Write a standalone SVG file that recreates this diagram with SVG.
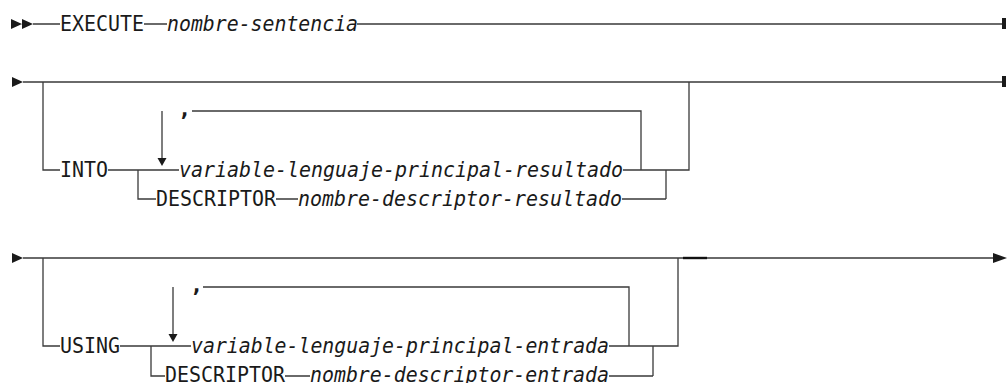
<svg xmlns="http://www.w3.org/2000/svg" width="1008" height="383" viewBox="0 0 1008 383">
<style>
.ln{stroke:#3a3a3a;stroke-width:1.3;fill:none}
.ah{fill:#1a1a1a}
text{font-family:"DejaVu Sans Mono","Liberation Mono",monospace;font-size:22px;fill:#1a1a1a}
.var{font-style:italic}
.cm{font-weight:bold}
</style>
<rect width="1008" height="383" fill="#fff"/>
<g id="connectors">
<path class="ln" d="M33 24H60 M144 24H167 M357 24H1004"/>
<path class="ln" d="M23 82H1004 M43 82V170H60 M108 170H179 M138 170V199H156 M276 199H298 M622 199H666 M623 170H689 V82 M666 170V199 M641 170V111H192 M162 111V160"/>
<path class="ln" d="M23 258H994 M43 258V346H60 M120 346H191 M151 346V376H165 M285 376H310 M609 376H653 M609 346H678 V258 M653 346V376 M629 346V287H203 M173 287V335"/>
<path d="M683 258H707" stroke="#111" stroke-width="2.4"/>
</g>
<g id="arrows">
<path class="ah" d="M11 19L22 24L11 29Z M22 19L33 24L22 29Z"/>
<rect class="ah" x="1002" y="18" width="4" height="11"/>
<path class="ah" d="M12 77L23 82L12 87Z"/>
<rect class="ah" x="1002" y="76" width="4" height="11"/>
<path class="ah" d="M12 253L23 258L12 263Z"/>
<path class="ah" d="M993 253L1007 258L993 263Z"/>
<path class="ah" d="M157.5 158L166.5 158L162 166Z"/>
<path class="ah" d="M168.5 334L177.5 334L173 342Z"/>
</g>
<g id="n-execute"><text x="60" y="31" textLength="84" lengthAdjust="spacingAndGlyphs">EXECUTE</text></g>
<g id="n-nombre-sentencia"><text class="var" x="167" y="31" textLength="191" lengthAdjust="spacingAndGlyphs">nombre-sentencia</text></g>
<g id="n-into"><text x="60" y="177" textLength="48" lengthAdjust="spacingAndGlyphs">INTO</text></g>
<g id="n-comma1"><text class="cm" x="178" y="116">,</text></g>
<g id="n-var-resultado"><text class="var" x="179" y="177" textLength="444" lengthAdjust="spacingAndGlyphs">variable-lenguaje-principal-resultado</text></g>
<g id="n-descriptor1"><text x="156" y="206" textLength="120" lengthAdjust="spacingAndGlyphs">DESCRIPTOR</text></g>
<g id="n-nombre-desc-resultado"><text class="var" x="298" y="206" textLength="324" lengthAdjust="spacingAndGlyphs">nombre-descriptor-resultado</text></g>
<g id="n-using"><text x="60" y="353" textLength="60" lengthAdjust="spacingAndGlyphs">USING</text></g>
<g id="n-comma2"><text class="cm" x="190" y="292">,</text></g>
<g id="n-var-entrada"><text class="var" x="191" y="353" textLength="418" lengthAdjust="spacingAndGlyphs">variable-lenguaje-principal-entrada</text></g>
<g id="n-descriptor2"><text x="165" y="382" textLength="120" lengthAdjust="spacingAndGlyphs">DESCRIPTOR</text></g>
<g id="n-nombre-desc-entrada"><text class="var" x="310" y="382" textLength="299" lengthAdjust="spacingAndGlyphs">nombre-descriptor-entrada</text></g>
</svg>
